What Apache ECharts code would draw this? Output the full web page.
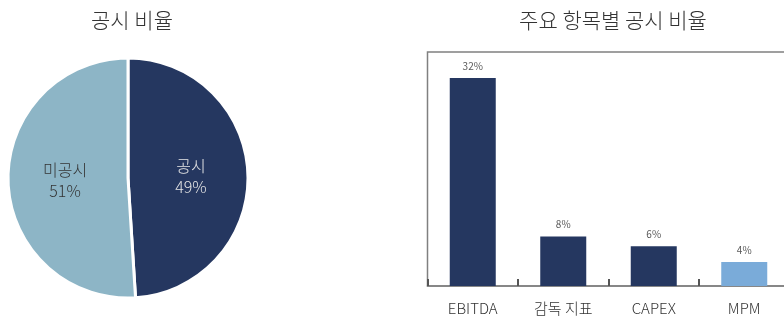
<!DOCTYPE html>
<html><head><meta charset="utf-8">
<script src="https://cdn.jsdelivr.net/npm/echarts@6/dist/echarts.min.js"></script>
<style>html,body{margin:0;padding:0;background:#fff;overflow:hidden}#c{width:792px;height:320px}</style>
</head><body><div id="c"></div>
<script>
const pieNames = ['공시', '미공시'];
const pieValues = [49, 51];
const barCategories = ['EBITDA', '감독 지표', 'CAPEX', 'MPM'];
const barValues = [32, 7.6, 6.1, 3.7];

const font = '"Noto Sans CJK KR", "Noto Sans", sans-serif';
const navy = '#253760';
const chart = echarts.init(document.getElementById('c'), null, {renderer: 'canvas'});
chart.setOption({
  animation: false,
  textStyle: {fontFamily: font},
  title: [
    {text: '공시 비율', left: 127, top: 5, textAlign: 'center',
     textStyle: {fontFamily: font, fontSize: 21, fontWeight: 300, color: '#333'}},
    {text: '주요 항목별 공시 비율', left: 608, top: 5, textAlign: 'center',
     textStyle: {fontFamily: font, fontSize: 21, fontWeight: 300, color: '#333'}}
  ],
  grid: {left: 427.5, top: 52, width: 362, height: 234, show: true, borderColor: '#808080', borderWidth: 1.5, backgroundColor: 'transparent'},
  xAxis: {
    type: 'category', data: barCategories,
    axisLine: {lineStyle: {color: '#808080', width: 1.5}},
    axisTick: {show: true, inside: true, length: 7, lineStyle: {color: '#555', width: 2}},
    axisLabel: {fontFamily: font, fontSize: 15, fontWeight: 300, color: '#333', margin: 15}
  },
  yAxis: {type: 'value', min: 0, max: 36, show: false, splitLine: {show: false}},
  series: [
    {
      type: 'pie', center: [128, 178], radius: 120, startAngle: 90, clockwise: true,
      data: pieNames.map((n, i) => ({name: n, value: pieValues[i],
        itemStyle: {color: i === 0 ? navy : '#8db5c6'},
        label: {color: i === 0 ? '#e6e6e6' : '#333'}})),
      itemStyle: {borderColor: '#fff', borderWidth: 3},
      label: {show: true, position: 'inside', fontFamily: font, fontSize: 16, fontWeight: 300, lineHeight: 21,
        formatter: p => p.name + '\n' + p.value + '%'},
      labelLine: {show: false}
    },
    {
      type: 'bar', barWidth: 46,
      data: barValues.map((v, i) => ({value: v, itemStyle: {color: i === 3 ? '#7aabd9' : navy}})),
      label: {show: true, position: 'top', distance: 7, fontFamily: font, fontSize: 10, color: '#595959',
        formatter: p => Math.round(p.value) + '%'}
    }
  ]
});
</script></body></html>
